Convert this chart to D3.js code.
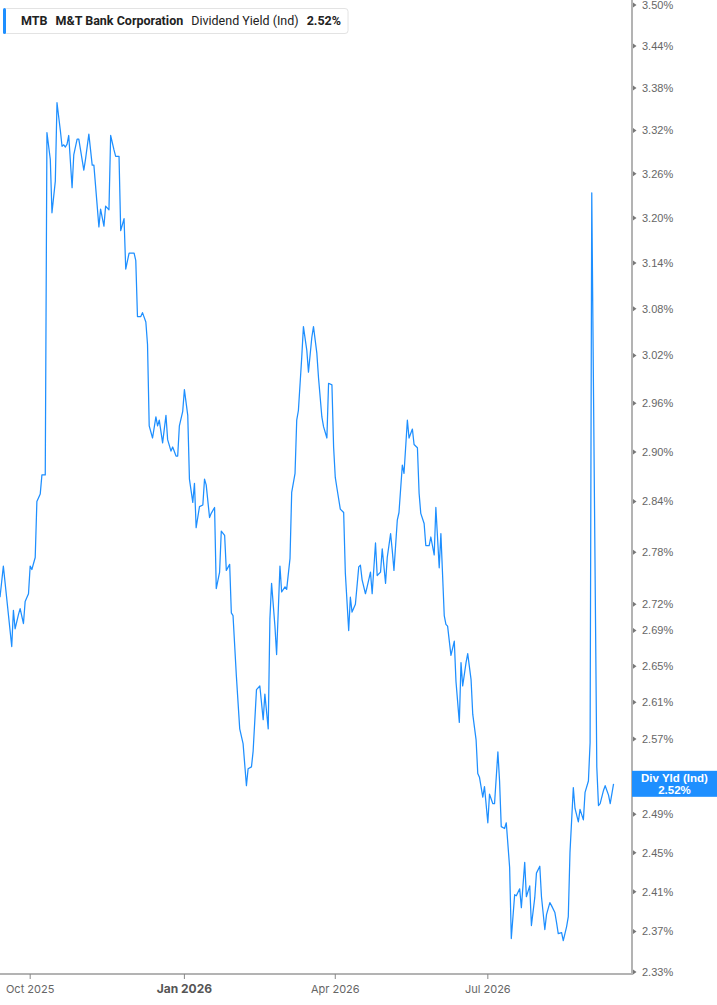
<!DOCTYPE html>
<html>
<head>
<meta charset="utf-8">
<script src="https://cdn.jsdelivr.net/npm/d3@7"></script>
<style>
  body { margin: 0; background: #fff; }
  svg { display: block; }
</style>
</head>
<body>
<svg width="717" height="1005"></svg>
<script>
// dividend yield (%)
const dates = [
  "2025-09-13","2025-09-15","2025-09-20","2025-09-21","2025-09-22","2025-09-24","2025-09-25","2025-09-27","2025-09-28","2025-09-30",
  "2025-10-01","2025-10-02","2025-10-04","2025-10-05","2025-10-07","2025-10-08","2025-10-10","2025-10-11","2025-10-13","2025-10-14",
  "2025-10-16","2025-10-17","2025-10-19","2025-10-20","2025-10-21","2025-10-22","2025-10-23","2025-10-24","2025-10-26","2025-10-27",
  "2025-10-29","2025-10-30","2025-11-02","2025-11-03","2025-11-05","2025-11-07","2025-11-08","2025-11-11","2025-11-12","2025-11-14",
  "2025-11-15","2025-11-17","2025-11-18","2025-11-20","2025-11-21","2025-11-23","2025-11-24","2025-11-26","2025-11-27","2025-11-29",
  "2025-12-02","2025-12-03","2025-12-04","2025-12-06","2025-12-07","2025-12-09","2025-12-10","2025-12-11","2025-12-13","2025-12-15",
  "2025-12-16","2025-12-17","2025-12-19","2025-12-21","2025-12-22","2025-12-24","2025-12-25","2025-12-27","2025-12-28","2025-12-29",
  "2025-12-31","2026-01-01","2026-01-03","2026-01-04","2026-01-06","2026-01-07","2026-01-08","2026-01-10","2026-01-12","2026-01-13",
  "2026-01-14","2026-01-16","2026-01-17","2026-01-19","2026-01-20","2026-01-22","2026-01-23","2026-01-25","2026-01-26","2026-01-28",
  "2026-01-29","2026-01-30","2026-02-01","2026-02-03","2026-02-05","2026-02-07","2026-02-08","2026-02-10","2026-02-11","2026-02-13",
  "2026-02-15","2026-02-17","2026-02-18","2026-02-20","2026-02-21","2026-02-22","2026-02-24","2026-02-25","2026-02-27","2026-02-28",
  "2026-03-02","2026-03-03","2026-03-05","2026-03-06","2026-03-08","2026-03-09","2026-03-10","2026-03-12","2026-03-13","2026-03-15",
  "2026-03-16","2026-03-18","2026-03-19","2026-03-21","2026-03-22","2026-03-24","2026-03-25","2026-03-27","2026-03-28","2026-03-30",
  "2026-03-31","2026-04-01","2026-04-02","2026-04-04","2026-04-06","2026-04-07","2026-04-09","2026-04-10","2026-04-11","2026-04-13",
  "2026-04-15","2026-04-16","2026-04-17","2026-04-19","2026-04-20","2026-04-22","2026-04-23","2026-04-25","2026-04-26","2026-04-28",
  "2026-04-29","2026-05-01","2026-05-02","2026-05-04","2026-05-05","2026-05-06","2026-05-08","2026-05-09","2026-05-11","2026-05-12",
  "2026-05-14","2026-05-15","2026-05-17","2026-05-18","2026-05-20","2026-05-21","2026-05-22","2026-05-24","2026-05-25","2026-05-27",
  "2026-05-28","2026-05-30","2026-05-31","2026-06-02","2026-06-03","2026-06-05","2026-06-06","2026-06-07","2026-06-09","2026-06-11",
  "2026-06-12","2026-06-14","2026-06-15","2026-06-16","2026-06-18","2026-06-19","2026-06-21","2026-06-22","2026-06-24","2026-06-25",
  "2026-06-26","2026-06-28","2026-06-29","2026-07-01","2026-07-02","2026-07-04","2026-07-05","2026-07-07","2026-07-08","2026-07-09",
  "2026-07-11","2026-07-12","2026-07-14","2026-07-15","2026-07-17","2026-07-18","2026-07-20","2026-07-21","2026-07-23","2026-07-24",
  "2026-07-26","2026-07-27","2026-07-29","2026-07-30","2026-08-01","2026-08-02","2026-08-04","2026-08-05","2026-08-07","2026-08-08",
  "2026-08-10","2026-08-11","2026-08-12","2026-08-14","2026-08-15","2026-08-17","2026-08-18","2026-08-19","2026-08-21","2026-08-22",
  "2026-08-24","2026-08-25","2026-08-27","2026-08-28","2026-08-30","2026-08-31","2026-09-01","2026-09-04","2026-09-05","2026-09-06",
  "2026-09-08","2026-09-09","2026-09-11","2026-09-12","2026-09-14"
]
const yields = [
  2.728,2.764,2.672,2.713,2.692,2.708,2.715,2.698,2.723,2.732,
  2.764,2.760,2.774,2.840,2.849,2.872,2.872,3.317,3.280,3.207,
  3.250,3.359,3.320,3.298,3.300,3.297,3.301,3.313,3.241,3.286,
  3.308,3.308,3.265,3.280,3.315,3.272,3.272,3.188,3.212,3.189,
  3.216,3.211,3.313,3.293,3.284,3.284,3.183,3.199,3.132,3.153,
  3.153,3.143,3.070,3.070,3.075,3.063,3.034,2.932,2.917,2.943,
  2.932,2.939,2.911,2.945,2.915,2.901,2.906,2.895,2.895,2.932,
  2.950,2.977,2.945,2.867,2.839,2.862,2.809,2.834,2.836,2.867,
  2.860,2.821,2.826,2.833,2.738,2.757,2.805,2.800,2.759,2.766,
  2.710,2.707,2.639,2.581,2.565,2.520,2.538,2.540,2.557,2.624,
  2.628,2.591,2.619,2.581,2.703,2.744,2.695,2.663,2.764,2.734,
  2.740,2.737,2.773,2.851,2.874,2.939,2.951,3.018,3.057,3.027,
  2.999,3.043,3.057,3.023,2.992,2.943,2.931,2.917,2.985,2.983,
  2.906,2.869,2.856,2.831,2.827,2.756,2.690,2.728,2.711,2.720,
  2.763,2.765,2.748,2.732,2.740,2.757,2.732,2.791,2.753,2.757,
  2.784,2.744,2.774,2.802,2.782,2.759,2.818,2.827,2.884,2.874,
  2.939,2.917,2.928,2.909,2.905,2.850,2.826,2.814,2.788,2.788,
  2.798,2.777,2.833,2.762,2.802,2.707,2.697,2.695,2.662,2.678,
  2.633,2.588,2.654,2.628,2.654,2.664,2.635,2.597,2.569,2.533,
  2.529,2.508,2.519,2.481,2.511,2.501,2.501,2.556,2.525,2.477,
  2.475,2.481,2.435,2.363,2.407,2.406,2.413,2.394,2.440,2.405,
  2.416,2.376,2.404,2.429,2.436,2.405,2.372,2.387,2.399,2.396,
  2.389,2.379,2.368,2.369,2.361,2.375,2.385,2.450,2.518,2.496,
  2.482,2.495,2.484,2.513,2.525,2.566,3.234,2.540,2.499,2.501,
  2.515,2.520,2.510,2.501,2.522
]

const yTicks = [3.50, 3.44, 3.38, 3.32, 3.26, 3.20, 3.14, 3.08, 3.02, 2.96, 2.90, 2.84,
                2.78, 2.72, 2.69, 2.65, 2.61, 2.57, 2.53, 2.49, 2.45, 2.41, 2.37, 2.33]
const xTicks = ["2025-10-01", "2026-01-01", "2026-04-01", "2026-07-01"]
const xTickLabels = ["Oct 2025", "Jan 2026", "Apr 2026", "Jul 2026"]
const yDomain = [2.33, 3.50]
const xDomain = ["2025-09-13", "2026-09-25"]

const ticker = "MTB"
const company = "M&T Bank Corporation"
const metric = "Dividend Yield (Ind)"
const lastLabel = "Div Yld (Ind)"

const svg = d3.select("svg")
const parse = d3.timeParse("%Y-%m-%d")
const blue = "#1e8fff"
const axisGrey = "#b3b3b3"

const plot = {left: 0, right: 632, top: 5, bottom: 972, axisY: 974}

const data = dates.map((d, i) => ({date: parse(d), value: yields[i]}))
const last = data[data.length - 1]

const x = d3.scaleTime()
    .domain(xDomain.map(parse))
    .range([plot.left, plot.right])

const y = d3.scaleLog()
    .domain(yDomain)
    .range([plot.bottom, plot.top])

// clip so the line stays inside the plot area
svg.append("clipPath").attr("id", "clip")
  .append("rect")
    .attr("x", plot.left).attr("y", 0)
    .attr("width", plot.right - plot.left).attr("height", plot.axisY)

const line = d3.line()
    .x(d => x(d.date))
    .y(d => y(d.value))

svg.append("path")
    .datum(data)
    .attr("clip-path", "url(#clip)")
    .attr("fill", "none")
    .attr("stroke", blue)
    .attr("stroke-width", 1.25)
    .attr("stroke-linejoin", "round")
    .attr("d", line)

// right axis
const flagY = y(last.value)
const yAxis = svg.append("g")
yAxis.append("line")
    .attr("x1", plot.right).attr("x2", plot.right)
    .attr("y1", 0).attr("y2", plot.axisY + 1)
    .attr("stroke", axisGrey).attr("stroke-width", 2)

const yt = yAxis.selectAll("g.tick").data(yTicks).enter().append("g")
    .attr("class", "tick")
    .attr("transform", d => `translate(${plot.right + 1},${y(d)})`)
yt.append("path")
    .attr("d", "M0,-2.5L3.5,0L0,2.5Z")
    .attr("fill", "#777")
// labels hidden behind the last-value flag are not drawn
yt.filter(d => Math.abs(y(d) - flagY) > 14)
  .append("text")
    .attr("x", 9)
    .attr("dy", "0.35em")
    .attr("fill", "#666")
    .style("font-family", "'Liberation Sans', Arial, sans-serif")
    .style("font-size", "11px")
    .text(d => d.toFixed(2) + "%")

// bottom axis
const xAxis = svg.append("g")
xAxis.append("line")
    .attr("x1", 0).attr("x2", plot.right)
    .attr("y1", plot.axisY).attr("y2", plot.axisY)
    .attr("stroke", axisGrey).attr("stroke-width", 2)

const xt = xAxis.selectAll("g.tick").data(xTicks).enter().append("g")
    .attr("transform", d => `translate(${x(parse(d))},${plot.axisY})`)
xt.append("line")
    .attr("y1", 0).attr("y2", 5)
    .attr("stroke", "#888").attr("stroke-width", 1)
xt.append("text")
    .attr("y", 19)
    .attr("text-anchor", "middle")
    .attr("fill", (d, i) => i === 1 ? "#555" : "#666")
    .style("font-family", "Inter, 'Noto Sans', sans-serif")
    .style("font-size", (d, i) => i === 1 ? "12px" : "11px")
    .style("font-weight", (d, i) => i === 1 ? 700 : 400)
    .text((d, i) => xTickLabels[i])

// last value flag
const flag = svg.append("g")
    .attr("transform", `translate(${plot.right},${flagY})`)
flag.append("rect")
    .attr("x", 0).attr("y", -13)
    .attr("width", 717 - plot.right).attr("height", 26)
    .attr("fill", blue)
flag.append("text")
    .attr("x", (717 - plot.right) / 2).attr("y", -2)
    .attr("text-anchor", "middle")
    .attr("fill", "#fff")
    .style("font-family", "'Liberation Sans', Arial, sans-serif")
    .style("font-size", "11.5px").style("font-weight", 700)
    .text(lastLabel)
flag.append("text")
    .attr("x", (717 - plot.right) / 2).attr("y", 10)
    .attr("text-anchor", "middle")
    .attr("fill", "#fff")
    .style("font-family", "'Liberation Sans', Arial, sans-serif")
    .style("font-size", "11.5px").style("font-weight", 700)
    .text(last.value.toFixed(2) + "%")

// legend box
const legend = svg.append("g")
const legendBg = legend.append("rect")
    .attr("x", 3.5).attr("y", 8.5).attr("height", 25).attr("rx", 3)
    .attr("fill", "#fff").attr("stroke", "#e3e3e3")
legend.append("rect")
    .attr("x", 3).attr("y", 8).attr("width", 3).attr("height", 26).attr("rx", 1.5)
    .attr("fill", blue)

const parts = [
  {text: ticker, weight: 700},
  {text: company, weight: 700},
  {text: metric, weight: 400},
  {text: last.value.toFixed(2) + "%", weight: 700}
]
let cursor = 21
parts.forEach(p => {
  const t = legend.append("text")
      .attr("x", cursor).attr("y", 25)
      .attr("fill", "#222")
      .style("font-family", "Roboto, 'Noto Sans', sans-serif")
      .style("font-size", "12.5px")
      .style("font-weight", p.weight)
      .text(p.text)
  cursor += t.node().getComputedTextLength() + 8
})
legendBg.attr("width", cursor - 3.5 - 1)
</script>
</body>
</html>
